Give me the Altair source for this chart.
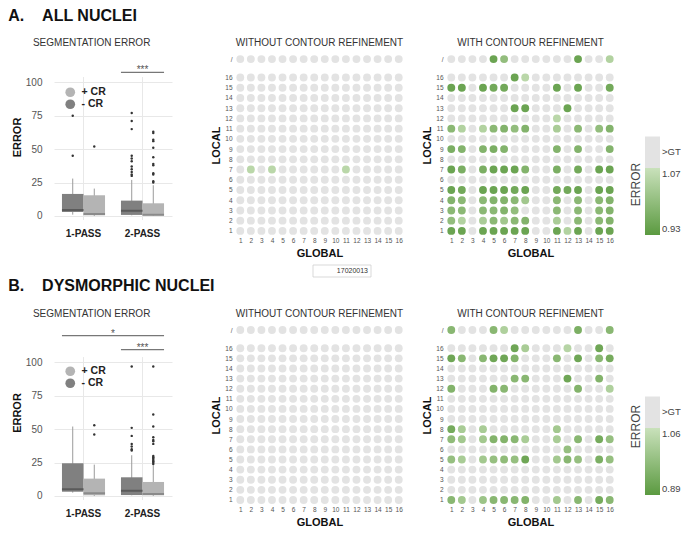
import altair as alt
import pandas as pd

FONT = "Liberation Sans"
GRAY_DOT = "#e3e3e3"
GREEN_DARK = "#5b9a40"
GREEN_LIGHT = "#c9e1bb"
BOX_DARK = "#808080"
BOX_LIGHT = "#b4b4b4"
MED_DARK = "#5a5a5a"
MED_LIGHT = "#8a8a8a"
WHISKER = "#9a9a9a"
GRID_LINE = "#e8e8e8"
SLASH_POS = 17.8
BOX_W = 118
GRID_W = 169
CBAR_W = 15
BAND_PAD_INNER = 0.27
BAND_PAD_OUTER = 0.135

# ---------------- box plot data ----------------
box_groups = ["1-PASS", "1-PASS", "2-PASS", "2-PASS"]
box_cr = ["- CR", "+ CR", "- CR", "+ CR"]

A_low = [1.0, 0.0, 0.5, 0.0]
A_q1 = [3.0, 0.5, 0.8, 0.3]
A_median = [4.5, 1.5, 4.0, 1.0]
A_q3 = [16.5, 15.5, 11.5, 9.5]
A_high = [28.0, 20.5, 27.0, 23.0]
A_out_1pass_minus = [45, 75]
A_out_1pass_plus = [52]
A_out_2pass_minus = [30, 31, 33, 35, 37, 41, 43, 45, 65, 71, 77]
A_out_2pass_plus = [25, 26, 31, 32, 38, 39, 44, 51, 56, 57, 62, 63]

B_low = [2.5, 0.0, 0.5, 0.0]
B_q1 = [3.2, 0.5, 0.7, 0.5]
B_median = [5.0, 2.0, 4.0, 1.5]
B_q3 = [24.5, 13.0, 14.0, 10.5]
B_high = [52.0, 23.5, 30.5, 23.0]
B_out_1pass_minus = []
B_out_1pass_plus = [46, 53]
B_out_2pass_minus = [34, 35, 37, 39, 45, 51, 97]
B_out_2pass_plus = [24, 25, 26, 27, 28, 29, 30, 39, 41, 42, 44, 52, 61, 97]

A_sig_from = ["2-PASS"]
A_sig_to = ["2-PASS"]
A_sig_level = [107.5]
A_sig_text = ["***"]
B_sig_from = ["1-PASS", "2-PASS"]
B_sig_to = ["2-PASS", "2-PASS"]
B_sig_level = [120.0, 109.5]
B_sig_text = ["*", "***"]

# ---------------- grid data ----------------
grid_cols = list(range(1, 17))
grid_rows = ["/", "16", "15", "14", "13", "12", "11", "10", "9", "8", "7", "6", "5", "4", "3", "2", "1"]
_ = None
EMPTY = [_] * 16

A_without = [EMPTY] * 10 + [[_, 1.05, _, 1.05, _, _, _, _, _, _, 1.05, _, _, _, _, _]] + [EMPTY] * 6

A_with = [
    [_, _, _, _, .95, 1.00, _, _, _, _, _, _, .95, _, _, 1.04],          # /
    [_, _, _, _, _, _, .95, 1.05, _, _, _, _, _, _, _, _],               # 16
    [.95, .95, _, .95, .96, .96, _, _, _, _, .95, _, .95, _, _, .96],    # 15
    EMPTY,                                                               # 14
    [_, _, _, _, _, _, .95, .95, _, _, _, .95, _, _, _, _],              # 13
    [_, _, _, _, _, _, _, _, _, _, 1.05, _, _, _, _, _],                 # 12
    [.99, 1.04, _, 1.04, .99, .98, 1.00, .98, _, _, 1.03, _, .99, _, 1.00, .98],  # 11
    EMPTY,                                                               # 10
    [.97, .98, _, .98, .97, .98, _, _, _, _, .98, _, .98, _, _, .98],    # 9
    EMPTY,                                                               # 8
    [.95, .97, _, .97, .95, .95, .95, .98, _, _, .97, _, .96, _, .95, .95],  # 7
    EMPTY,                                                               # 6
    [.95, .96, _, .95, .95, .95, .96, .95, _, _, .96, .96, .95, _, .95, .95],  # 5
    [.98, .99, _, .99, .98, .98, .99, 1.02, _, _, .99, _, .99, _, .99, .98],  # 4
    [.99, .99, _, .99, .99, .98, 1.00, _, _, _, .99, _, .99, _, .99, .98],    # 3
    [1.00, 1.04, _, 1.03, .99, 1.02, .99, .98, _, _, 1.03, _, .99, _, .99, .98],  # 2
    [.95, .95, _, .95, .95, .95, .95, .95, _, _, .95, 1.04, .95, _, .95, .95],    # 1
]

B_without = [EMPTY] * 17

B_with = [
    [.96, _, _, _, .96, 1.02, _, _, _, _, _, _, .94, _, _, .96],          # /
    [_, _, _, _, _, _, .92, 1.01, _, _, _, 1.03, _, _, .92, _],          # 16
    [.92, .96, _, .96, .92, .92, .95, _, _, _, .96, _, .92, _, .96, .93],  # 15
    EMPTY,                                                               # 14
    [_, _, _, _, _, _, .96, .96, _, _, _, .92, _, _, .95, _],            # 13
    [.95, _, _, _, .95, .96, _, _, _, _, _, _, .95, _, _, 1.02],         # 12
    EMPTY, EMPTY, EMPTY,                                                 # 11 10 9
    [.93, 1.01, _, 1.01, _, _, _, _, _, _, 1.00, _, _, _, _, _],         # 8
    [.97, 1.00, _, 1.00, .95, .95, .96, 1.01, _, _, 1.01, _, .96, _, .93, .98],  # 7
    [_, _, _, _, _, _, _, _, _, _, _, .98, _, _, _, _],                   # 6
    [.98, 1.01, _, 1.00, .98, .97, .98, .92, _, _, 1.00, .96, .98, _, .94, .98],  # 5
    EMPTY, EMPTY, EMPTY,                                                 # 4 3 2
    [.96, 1.00, _, .99, .96, .96, .96, .95, _, _, 1.00, _, .96, _, .93, .96],    # 1
]

A_range = [0.93, 1.07]
B_range = [0.89, 1.06]
note_labels = ["17020013"]

BOX_Y_MIN = -3
BOX_GRID_TOP = 104

# ---------------- helpers ----------------
X_BAND = alt.Scale(domain=["1-PASS", "2-PASS"], paddingInner=BAND_PAD_INNER, paddingOuter=BAND_PAD_OUTER)
XOFF = alt.Scale(domain=["- CR", "+ CR"], paddingInner=0, paddingOuter=0)
# half of the gap between the two bands, in pixels (centre of a span label)
_step = BOX_W / (2 - BAND_PAD_INNER + 2 * BAND_PAD_OUTER)
GAP_HALF = _step * BAND_PAD_INNER / 2


def box_panel(low, q1, med, q3, high, outs, sig_from, sig_to, sig_level, sig_text,
              height, y_top, legend_y):
    ysc = alt.Scale(domain=[BOX_Y_MIN, y_top], nice=False, zero=False)
    stats = pd.DataFrame({"group": box_groups, "cr": box_cr, "low": low, "q1": q1,
                          "med": med, "q3": q3, "high": high})
    rows = []
    keys = [("1-PASS", "- CR"), ("1-PASS", "+ CR"), ("2-PASS", "- CR"), ("2-PASS", "+ CR")]
    for (g, c), vals in zip(keys, outs):
        for v in vals:
            rows.append({"group": g, "cr": c, "val": v})
    outdf = pd.DataFrame(rows, columns=["group", "cr", "val"])
    sig = pd.DataFrame({"sfrom": sig_from, "sto": sig_to, "level": sig_level, "txt": sig_text})
    cats = pd.DataFrame({"group": list(dict.fromkeys(box_groups))})

    x = alt.X("group:N", scale=X_BAND,
              axis=alt.Axis(title=None, labelAngle=0, labelFontWeight="bold", labelFontSize=10,
                            labelColor="#222", labelPadding=8, ticks=False, domain=False, grid=False))
    xo = alt.XOffset("cr:N", scale=XOFF)
    yax = alt.Axis(values=[0, 25, 50, 75, 100], title="ERROR", titleFontWeight="bold",
                   titleFontSize=11, titleColor="#111", titlePadding=3, labelFontSize=10,
                   labelColor="#555", labelPadding=12, ticks=False, domain=False,
                   grid=True, gridColor=GRID_LINE)

    vgrid = alt.Chart(cats).mark_rule(color=GRID_LINE, strokeWidth=1).encode(
        x=x, y=alt.YDatum(BOX_Y_MIN, scale=ysc, axis=yax), y2=alt.Y2Datum(BOX_GRID_TOP))
    whisk = alt.Chart(stats).mark_rule(color=WHISKER, strokeWidth=1).encode(
        x=x, xOffset=xo, y=alt.Y("low:Q", scale=ysc), y2="high:Q")
    box = alt.Chart(stats).mark_bar(opacity=1).encode(
        x=x, xOffset=xo, y=alt.Y("q1:Q", scale=ysc), y2="q3:Q",
        fill=alt.Fill("cr:N", scale=alt.Scale(domain=["+ CR", "- CR"], range=[BOX_LIGHT, BOX_DARK]),
                      legend=alt.Legend(orient="none", legendX=11, legendY=legend_y, title=None,
                                        symbolType="circle", symbolSize=95, symbolStrokeWidth=0,
                                        labelFontSize=10.5, labelFontWeight="bold", labelColor="#222",
                                        labelOffset=6, rowPadding=1, padding=0)))
    median = alt.Chart(stats).mark_rect(fillOpacity=0, strokeWidth=2).encode(
        x=x, xOffset=xo, y=alt.Y("med:Q", scale=ysc), y2="med:Q",
        stroke=alt.Stroke("cr:N", scale=alt.Scale(domain=["- CR", "+ CR"], range=[MED_DARK, MED_LIGHT]),
                          legend=None))
    pts = alt.Chart(outdf).mark_circle(size=6, color="#333", opacity=1).encode(
        x=x, xOffset=xo, y=alt.Y("val:Q", scale=ysc))
    sig_line = alt.Chart(sig).mark_rule(color="#777", strokeWidth=1.2).encode(
        x=alt.X("sfrom:N", scale=X_BAND, bandPosition=0),
        x2=alt.X2("sto:N", bandPosition=1),
        y=alt.Y("level:Q", scale=ysc))
    sig_txt_same = alt.Chart(sig).transform_filter("datum.sfrom == datum.sto").mark_text(
        fontSize=10, color="#555", baseline="bottom", dy=3).encode(
        x=alt.X("sto:N", scale=X_BAND), y=alt.Y("level:Q", scale=ysc), text="txt:N")
    sig_txt_span = alt.Chart(sig).transform_filter("datum.sfrom != datum.sto").mark_text(
        fontSize=10, color="#555", baseline="bottom", dy=3, dx=GAP_HALF).encode(
        x=alt.X("sfrom:N", scale=X_BAND, bandPosition=1),
        y=alt.Y("level:Q", scale=ysc), text="txt:N")

    return alt.layer(vgrid, whisk, box, median, pts, sig_line, sig_txt_same, sig_txt_span).properties(
        width=BOX_W, height=height,
        title=alt.TitleParams("SEGMENTATION ERROR", fontSize=10, fontWeight="normal", color="#333",
                              offset=6, frame="bounds", anchor="middle"))


def grid_frame(matrix):
    recs = []
    for lab, row in zip(grid_rows, matrix):
        ypos = SLASH_POS if lab == "/" else int(lab)
        for c, v in zip(grid_cols, row):
            recs.append({"g": c, "row": lab, "ypos": ypos, "v": v})
    return pd.DataFrame(recs)


def grid_panel(matrix, title, vrange, height, note=False):
    df = grid_frame(matrix)
    xs = alt.X("g:Q", scale=alt.Scale(domain=[0.5, 16.5], nice=False, zero=False),
               axis=alt.Axis(values=grid_cols, title="GLOBAL", titleFontWeight="bold", titleFontSize=11,
                             titleColor="#111", titlePadding=4, labelFontSize=6.5, labelColor="#555",
                             labelPadding=1, ticks=False, domain=False, grid=False, labelFlush=False,
                             labelOverlap=False))
    ys = alt.Y("ypos:Q", scale=alt.Scale(domain=[0.5, SLASH_POS + 0.5], nice=False, zero=False),
               axis=alt.Axis(values=[float(v) for v in range(1, 17)] + [SLASH_POS],
                             labelExpr="datum.value > 16.5 ? '/' : datum.label",
                             title="LOCAL", titleFontWeight="bold", titleFontSize=11, titleColor="#111",
                             titlePadding=3, labelFontSize=6.5, labelColor="#555", labelPadding=3,
                             ticks=False, domain=False, grid=False, labelFlush=False, labelOverlap=False))
    base = alt.Chart(df).encode(x=xs, y=ys)
    gray = base.transform_filter("!isValid(datum.v)").mark_circle(size=62, color=GRAY_DOT, opacity=1)
    green = base.transform_filter("isValid(datum.v)").mark_circle(size=62, opacity=1).encode(
        color=alt.Color("v:Q", scale=alt.Scale(domain=vrange, range=[GREEN_DARK, GREEN_LIGHT], clamp=True),
                        legend=None))
    layers = [gray, green]
    if note:
        nd = pd.DataFrame({"note": note_labels})
        box = alt.Chart(nd).mark_rect(fill="white", stroke="#cfcfcf", strokeWidth=0.8, clip=False).encode(
            x=alt.value(78), x2=alt.value(136), y=alt.value(211), y2=alt.value(223))
        txt = alt.Chart(nd).mark_text(fontSize=7, color="#333", align="right", baseline="middle",
                                      clip=False).encode(x=alt.value(133), y=alt.value(217), text="note:N")
        layers += [box, txt]
    return alt.layer(*layers).properties(
        width=GRID_W, height=height,
        title=alt.TitleParams(title, fontSize=10, fontWeight="normal", color="#333",
                              offset=6, frame="group", anchor="middle"))


def cbar_panel(vrange, height, title_y):
    vmin, vmax = vrange
    span = vmax - vmin
    green_px = 67
    gt_top = vmax + 0.47 * span
    ysc = alt.Scale(domain=[vmin, vmin + span * height / green_px], nice=False, zero=False)
    seg = pd.DataFrame({"lo": [vmax], "hi": [gt_top]})
    grn = pd.DataFrame({"lo": [vmin], "hi": [vmax]})
    gray = alt.Chart(seg).mark_rect(color=GRAY_DOT).encode(
        y=alt.Y("lo:Q", scale=ysc, axis=alt.Axis(title="ERROR", labels=False, ticks=False, domain=False,
                                                 grid=False, titleFontWeight="normal", titleFontSize=12,
                                                 titleColor="#444", titlePadding=3, titleY=title_y)),
        y2="hi:Q")
    grad = alt.Chart(grn).mark_rect(
        fill=alt.Gradient(gradient="linear",
                          stops=[alt.GradientStop(color=GREEN_DARK, offset=0),
                                 alt.GradientStop(color=GREEN_LIGHT, offset=1)],
                          x1=0, x2=0, y1=1, y2=0)).encode(y=alt.Y("lo:Q", scale=ysc), y2="hi:Q")
    lab = pd.DataFrame({"v": [vmin, vmax, (vmax + gt_top) / 2],
                        "t": [f"{vmin:.2f}", f"{vmax:.2f}", ">GT"]})
    common = dict(align="left", fontSize=9.5, color="#444", dx=2, clip=False)
    t_min = alt.Chart(lab).transform_filter(alt.datum.v == vmin).mark_text(
        baseline="bottom", dy=-1, **common).encode(x=alt.value(CBAR_W), y=alt.Y("v:Q", scale=ysc), text="t:N")
    t_max = alt.Chart(lab).transform_filter(alt.datum.v == vmax).mark_text(
        baseline="top", dy=1, **common).encode(x=alt.value(CBAR_W), y=alt.Y("v:Q", scale=ysc), text="t:N")
    t_gt = alt.Chart(lab).transform_filter("datum.t == '>GT'").mark_text(
        baseline="middle", **common).encode(x=alt.value(CBAR_W), y=alt.Y("v:Q", scale=ysc), text="t:N")
    return alt.layer(gray, grad, t_min, t_max, t_gt).properties(width=CBAR_W, height=height)


def ind(ch):
    return ch.resolve_scale(color="independent", fill="independent", stroke="independent")


def row(label, box, g1, g2, cb, title_offset):
    inner2 = ind(alt.hconcat(g2, cb, spacing=14))
    inner1 = ind(alt.hconcat(g1, inner2, spacing=17))
    return ind(alt.hconcat(box, inner1, spacing=38,
                           title=alt.TitleParams(label, anchor="start", fontSize=16, fontWeight="bold",
                                                 color="#111", offset=title_offset, dx=-3)))


boxA = box_panel(A_low, A_q1, A_median, A_q3, A_high,
                 [A_out_1pass_minus, A_out_1pass_plus, A_out_2pass_minus, A_out_2pass_plus],
                 A_sig_from, A_sig_to, A_sig_level, A_sig_text, 166, 121.2, 33)
boxB = box_panel(B_low, B_q1, B_median, B_q3, B_high,
                 [B_out_1pass_minus, B_out_1pass_plus, B_out_2pass_minus, B_out_2pass_plus],
                 B_sig_from, B_sig_to, B_sig_level, B_sig_text, 175, 128.0, 41)

rowA = row("A.\u00a0\u00a0\u00a0\u00a0ALL NUCLEI", boxA,
           grid_panel(A_without, "WITHOUT CONTOUR REFINEMENT", A_range, 182, note=True),
           grid_panel(A_with, "WITH CONTOUR REFINEMENT", A_range, 182),
           cbar_panel(A_range, 181, 130), 14)
rowB = row("B.\u00a0\u00a0\u00a0\u00a0DYSMORPHIC NUCLEI", boxB,
           grid_panel(B_without, "WITHOUT CONTOUR REFINEMENT", B_range, 180),
           grid_panel(B_with, "WITH CONTOUR REFINEMENT", B_range, 180),
           cbar_panel(B_range, 170, 101), 15)

chart = ind(alt.vconcat(rowA, rowB, spacing=0)).properties(padding=0).configure(
    font=FONT).configure_view(stroke=None).configure_title(font=FONT).configure_axis(
    labelFont=FONT, titleFont=FONT).configure_legend(labelFont=FONT)

chart.save("out.html", embed_options={"renderer": "svg", "actions": False})
